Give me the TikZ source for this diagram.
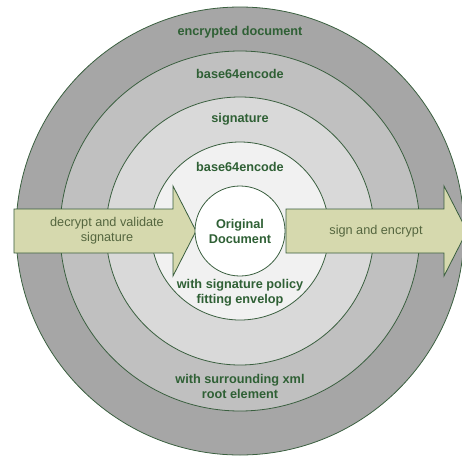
\documentclass[tikz,border=0pt]{standalone}
\usepackage{fontspec}
\setmainfont{Liberation Sans}
\definecolor{ringline}{HTML}{3A5F3F}
\definecolor{ringtext}{HTML}{2F6035}
\definecolor{arrowfill}{HTML}{D6D9AE}
\definecolor{arrowtext}{HTML}{55663F}
\definecolor{ringA}{HTML}{A6A6A6}
\definecolor{ringB}{HTML}{C0C0C0}
\definecolor{ringC}{HTML}{D9D9D9}
\definecolor{ringD}{HTML}{F1F1F1}
\begin{document}
\begin{tikzpicture}[x=1pt,y=1pt,
    layer/.style={font=\fontsize{12.7}{15}\selectfont\bfseries,text=ringtext,align=center},
    flowtext/.style={font=\fontsize{12.7}{15}\selectfont,text=arrowtext,align=center},
    flowbox/.style={draw=ringline,fill=arrowfill,line width=0.8pt}]
      \useasboundingbox (-240,-225) rectangle (222,231);
      \def \Rings{
        224/ringA,
        180/ringB,
        134/ringC,
        89/ringD}
      \def \Labels{
        enc/199/{encrypted document},
        bsa/157/{base64encode},
        sig/112/{signature},
        bsb/64/{base64encode},
        pol/-62/{with signature policy\\fitting envelop},
        xml/-155/{with surrounding xml\\root element}}
      \def \Arrows{
        -226/-67/-44,
        46/204/227}
      \foreach \r / \c in \Rings{
        \path[draw=ringline,fill=\c,line width=0.8pt] (0,0) circle (\r);
      }
      \foreach \id / \y / \txt in \Labels{
        \node[layer] (\id) at (0,\y) {\txt};
      }
      \foreach \a / \b / \t in \Arrows{
        \path[flowbox] (\a,22) -- (\b,22) -- (\b,45) -- (\t,0) -- (\b,-45) -- (\b,-22) -- (\a,-22) -- cycle;
      }
      \node[flowtext] (decrypt) at (-133,0) {decrypt and validate\\signature};
      \node[flowtext] (sign) at (136,0) {sign and encrypt};
      \node[draw=ringline,fill=white,circle,minimum size=90,inner sep=0,line width=0.8pt,layer] (doc) at (0,0) {Original\\Document};
    \end{tikzpicture}
\end{document}
